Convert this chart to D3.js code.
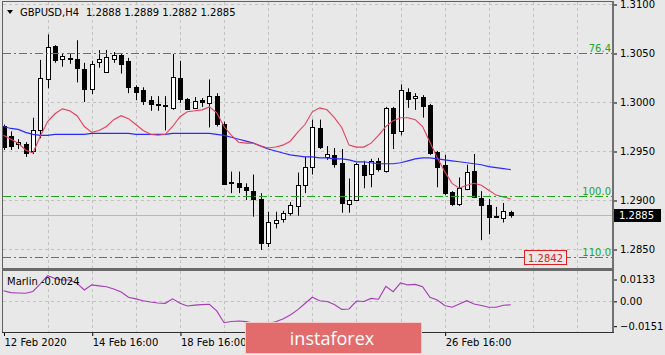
<!DOCTYPE html>
<html>
<head>
<meta charset="UTF-8">
<title>GBPUSD,H4</title>
<script src="https://d3js.org/d3.v7.min.js"></script>
<style>
  body { margin: 0; background: #e8e8e8; }
  svg { display: block; font-family: "DejaVu Sans", sans-serif; font-size: 10px; }
</style>
</head>
<body>
<svg width="665" height="355"></svg>
<script>
// H4 bars
const opens = [1.2975,1.2965,1.2957,1.2957,1.2950,1.2971,1.3023,1.3057,1.3044,1.3045,
  1.3044,1.3034,1.3014,1.3041,1.3031,1.3044,1.3048,1.3042,1.3015,1.3012,
  1.3002,1.2998,1.2997,1.2994,1.3025,1.3003,1.2994,1.3002,1.2999,1.3006,
  1.2978,1.2918,1.2917,1.2913,1.2909,1.2901,1.2857,1.2877,1.2881,1.2887,
  1.2894,1.2916,1.2933,1.2973,1.2944,1.2946,1.2938,1.2896,1.2900,1.2936,
  1.2927,1.2940,1.2930,1.2994,1.2970,1.3010,1.3004,1.3005,1.2997,1.2949,
  1.2936,1.2908,1.2896,1.2912,1.2930,1.2902,1.2895,1.2884,1.2882,1.2888];
const highs = [1.2977,1.2970,1.2962,1.2959,1.2984,1.3043,1.3069,1.3058,1.3050,1.3050,
  1.3063,1.3040,1.3042,1.3053,1.3053,1.3051,1.3050,1.3045,1.3017,1.3015,
  1.3006,1.3006,1.3006,1.3049,1.3042,1.3004,1.3005,1.3004,1.3023,1.3009,
  1.2980,1.2929,1.2929,1.2917,1.2926,1.2907,1.2888,1.2888,1.2889,1.2898,
  1.2928,1.2944,1.2982,1.2982,1.2955,1.2953,1.2952,1.2922,1.2938,1.2940,
  1.2942,1.2943,1.2995,1.2995,1.3018,1.3014,1.3009,1.3007,1.2998,1.2950,
  1.2946,1.2909,1.2923,1.2936,1.2947,1.2909,1.2901,1.2893,1.2897,1.2889];
const lows = [1.2951,1.2951,1.2952,1.2944,1.2947,1.2963,1.3014,1.3040,1.3036,1.3039,
  1.3020,1.3000,1.3008,1.3035,1.3030,1.3040,1.3029,1.3009,1.3002,1.2997,
  1.2991,1.2991,1.2971,1.2992,1.2999,1.2992,1.2993,1.2995,1.2974,1.2975,
  1.2916,1.2907,1.2907,1.2900,1.2883,1.2849,1.2852,1.2871,1.2877,1.2884,
  1.2884,1.2907,1.2926,1.2952,1.2941,1.2933,1.2887,1.2887,1.2899,1.2912,
  1.2913,1.2929,1.2928,1.2952,1.2966,1.2994,1.2992,1.2984,1.2946,1.2913,
  1.2905,1.2894,1.2894,1.2910,1.2902,1.2859,1.2865,1.2882,1.2877,1.2882];
const closes = [1.2954,1.2955,1.2959,1.2948,1.2971,1.3024,1.3056,1.3043,1.3047,1.3044,
  1.3035,1.3014,1.3039,1.3044,1.3046,1.3048,1.3039,1.3015,1.3010,1.3001,
  1.2998,1.2997,1.2996,1.3026,1.3004,1.2993,1.3001,1.3000,1.3006,1.2977,
  1.2917,1.2917,1.2913,1.2910,1.2901,1.2856,1.2878,1.2880,1.2887,1.2895,
  1.2915,1.2934,1.2974,1.2954,1.2947,1.2937,1.2897,1.2900,1.2937,1.2926,
  1.2940,1.2932,1.2994,1.2969,1.3012,1.3003,1.3006,1.2996,1.2948,1.2934,
  1.2907,1.2896,1.2912,1.2929,1.2903,1.2895,1.2883,1.2883,1.2889,1.2885];

// moving averages (red fast, blue slow)
const maFast = [1.2966,1.2962,1.2958,1.2951,1.2948,1.2965,1.2980,1.2988,1.2993,1.2991,
  1.2986,1.2975,1.2969,1.2971,1.2975,1.2982,1.2986,1.2983,1.2977,1.2971,
  1.2967,1.2966,1.2967,1.2975,1.2985,1.2990,1.2991,1.2992,1.2995,1.2989,
  1.2975,1.2966,1.2959,1.2958,1.2958,1.2955,1.2953,1.2954,1.2956,1.2960,
  1.2969,1.2977,1.2990,1.2994,1.2992,1.2984,1.2974,1.2956,1.2954,1.2954,
  1.2958,1.2966,1.2975,1.2981,1.2984,1.2984,1.2982,1.2975,1.2959,1.2943,
  1.2929,1.2917,1.2912,1.2915,1.2917,1.2915,1.2910,1.2905,1.2903,1.2901];
const maSlow = [1.2975,1.2973,1.2972,1.2969,1.2967,1.2966,1.2966,1.2967,1.2967,1.2967,
  1.2967,1.2967,1.2968,1.2968,1.2968,1.2968,1.2968,1.2968,1.2967,1.2967,
  1.2967,1.2967,1.2967,1.2968,1.2968,1.2968,1.2968,1.2968,1.2968,1.2967,
  1.2966,1.2964,1.2962,1.2960,1.2958,1.2955,1.2952,1.2950,1.2948,1.2946,
  1.2945,1.2944,1.2944,1.2943,1.2943,1.2942,1.2942,1.2941,1.2939,1.2939,
  1.2938,1.2937,1.2937,1.2937,1.2938,1.2940,1.2942,1.2943,1.2943,1.2942,
  1.2941,1.2940,1.2939,1.2938,1.2937,1.2936,1.2934,1.2933,1.2932,1.2931];

// Marlin oscillator
const marlin = [0.0062,0.0050,0.0048,0.0046,0.0057,0.0103,0.0153,0.0136,0.0127,0.0127,
  0.0106,0.0066,0.0097,0.0091,0.0086,0.0072,0.0054,0.0022,0.0012,0.0001,
  -0.0007,-0.0013,-0.0015,0.0012,-0.0015,-0.0031,-0.0026,-0.0023,-0.0021,-0.0061,
  -0.0133,-0.0125,-0.0122,-0.0126,-0.0136,-0.0136,-0.0136,-0.0127,-0.0110,-0.0086,
  -0.0055,-0.0016,0.0022,0.0001,-0.0004,-0.0022,-0.0052,-0.0049,-0.0001,-0.0004,
  0.0015,0.0010,0.0088,0.0056,0.0109,0.0097,0.0100,0.0086,0.0022,0.0005,
  -0.0028,-0.0039,-0.0019,0.0001,-0.0019,-0.0028,-0.0039,-0.0039,-0.0027,-0.0024];

const priceTicks = [1.3100, 1.3050, 1.3000, 1.2950, 1.2900, 1.2850];
const marlinTicks = [0.0133, 0, -0.0151];
const fibLevels = ["76.4", "100.0", "110.0"];
const fibPrices = [1.3050, 1.2904, 1.2842];
const timeTickIdx = [0, 12, 24, 60];
const timeTickLabels = ["12 Feb 2020", "14 Feb 16:00", "18 Feb 16:00", "26 Feb 16:00"];
const symbol = "GBPUSD,H4";
const lastPrice = 1.2885;
const targetPrice = 1.2842;

// layout
const L = 3, R = 613, mainTop = 2, mainBot = 268, subTop = 271, subBot = 332;
const svg = d3.select("svg");

const x = d3.scaleLinear().domain([0, 78]).range([3.5, 577]);
const y = d3.scaleLinear().domain([1.2850, 1.3100]).range([249, 4]);
const ym = d3.scaleLinear().domain([-0.0151, 0.0133]).range([325.7, 279]);
const px = i => Math.round(x(i)) + 0.5;

svg.append("defs").append("clipPath").attr("id", "clipMain")
  .append("rect").attr("x", L).attr("y", mainTop).attr("width", R - L).attr("height", mainBot - mainTop);
svg.append("defs").append("clipPath").attr("id", "clipSub")
  .append("rect").attr("x", L).attr("y", subTop).attr("width", R - L).attr("height", subBot - subTop);

// grid
const gridIdx = d3.range(6, 79, 6);
const grid = svg.append("g").attr("stroke", "#c2c2c2").attr("stroke-dasharray", "3,3");
gridIdx.forEach(i => {
  grid.append("line").attr("x1", px(i)).attr("x2", px(i)).attr("y1", mainTop).attr("y2", mainBot);
  grid.append("line").attr("x1", px(i)).attr("x2", px(i)).attr("y1", subTop).attr("y2", subBot);
});
priceTicks.filter(p => !fibPrices.some(f => Math.abs(y(f) - y(p)) < 1.5)).forEach(p => {
  const yy = Math.round(y(p)) + 0.5;
  grid.append("line").attr("x1", L).attr("x2", R).attr("y1", yy).attr("y2", yy);
});
grid.append("line").attr("x1", L).attr("x2", R)
  .attr("y1", Math.round(ym(0)) + 0.5).attr("y2", Math.round(ym(0)) + 0.5);

const main = svg.append("g").attr("clip-path", "url(#clipMain)");

// current price line
main.append("line").attr("x1", L).attr("x2", R)
  .attr("y1", Math.round(y(lastPrice)) + 0.5).attr("y2", Math.round(y(lastPrice)) + 0.5)
  .attr("stroke", "#b8b8b8");

// fibo levels
const fib = svg.append("g");
fibPrices.forEach((p, k) => {
  const yy = Math.round(y(p)) + 0.5;
  fib.append("path").attr("d", `M${L},${yy}H${R - 1}`)
    .attr("fill", "none").attr("stroke", "#1fa51f").attr("stroke-dasharray", "8,3,2,3");
  fib.append("text").attr("x", R - 2).attr("y", yy - 2).attr("text-anchor", "end")
    .attr("fill", "#1fa51f").text(fibLevels[k]);
});

// candles
const idx = d3.range(opens.length);
main.selectAll(".wick").data(idx).enter().append("line")
  .attr("x1", px).attr("x2", px)
  .attr("y1", i => y(highs[i])).attr("y2", i => y(lows[i]))
  .attr("stroke", "#000");
main.selectAll(".body").data(idx).enter().append("rect")
  .attr("x", i => px(i) - 2)
  .attr("y", i => Math.round(y(Math.max(opens[i], closes[i]))) + 0.5)
  .attr("width", 4)
  .attr("height", i => Math.max(0, Math.round(Math.abs(y(opens[i]) - y(closes[i])))))
  .attr("fill", i => closes[i] >= opens[i] ? "#fff" : "#000")
  .attr("stroke", "#000");

// moving averages
const line = arr => d3.line().x((d, i) => x(i)).y(d => y(d))(arr);
main.append("path").attr("d", line(maSlow)).attr("fill", "none")
  .attr("stroke", "#2b2bff").attr("stroke-width", 1.2);
main.append("path").attr("d", line(maFast)).attr("fill", "none")
  .attr("stroke", "#e6405e").attr("stroke-width", 1.1);

// target label
const ty = Math.round(y(targetPrice)) + 0.5;
svg.append("line").attr("x1", 518).attr("x2", 525).attr("y1", ty).attr("y2", ty).attr("stroke", "#e02020");
svg.append("rect").attr("x", 524.5).attr("y", ty - 7).attr("width", 42).attr("height", 14)
  .attr("fill", "#e8e8e8").attr("stroke", "#e02020");
svg.append("text").attr("x", 545.5).attr("y", ty + 4).attr("text-anchor", "middle")
  .attr("fill", "#e02020").text(targetPrice.toFixed(4));

// marlin
svg.append("g").attr("clip-path", "url(#clipSub)").append("path")
  .attr("d", d3.line().x((d, i) => x(i)).y(d => ym(d))(marlin))
  .attr("fill", "none").attr("stroke", "#a43cb4").attr("stroke-width", 1.1);

// frames
const frame = svg.append("g").attr("fill", "none");
frame.append("line").attr("x1", L).attr("x2", R + 1).attr("y1", 1.5).attr("y2", 1.5).attr("stroke", "#606060");
frame.append("line").attr("x1", 2.5).attr("x2", 2.5).attr("y1", 1).attr("y2", subBot + 1).attr("stroke", "#606060");
frame.append("line").attr("x1", R).attr("x2", R).attr("y1", 1).attr("y2", subBot + 1)
  .attr("stroke", "#707070").attr("stroke-width", 2);
frame.append("line").attr("x1", 2).attr("x2", R + 1).attr("y1", 269.5).attr("y2", 269.5)
  .attr("stroke", "#6a6a6a").attr("stroke-width", 3);
frame.append("line").attr("x1", 2).attr("x2", R + 1).attr("y1", subBot + 0.5).attr("y2", subBot + 0.5)
  .attr("stroke", "#303030");

// axes
const axPrice = svg.append("g").attr("transform", `translate(${R + 1},0.5)`)
  .call(d3.axisRight(y).tickValues(priceTicks).tickFormat(d3.format(".4f")).tickSize(3).tickPadding(3));
const axMarlin = svg.append("g").attr("transform", `translate(${R + 1},0.5)`)
  .call(d3.axisRight(ym).tickValues(marlinTicks)
    .tickFormat(d => d === 0 ? "0.00" : d3.format(".4f")(d)).tickSize(3).tickPadding(3));
const axTime = svg.append("g").attr("transform", `translate(0.5,${subBot + 1})`)
  .call(d3.axisBottom(x).tickValues(timeTickIdx).tickFormat((d, i) => timeTickLabels[i]).tickSize(3).tickPadding(3));
axTime.selectAll("text").attr("text-anchor", "start").attr("x", 0);
[axPrice, axMarlin, axTime].forEach(a => {
  a.select(".domain").remove();
  a.attr("font-family", null).attr("font-size", null).style("color", "#000");
});

// last price tag
const ly = Math.round(y(lastPrice));
svg.append("rect").attr("x", R + 1).attr("y", ly - 6).attr("width", 47).attr("height", 13).attr("fill", "#000");
svg.append("text").attr("x", R + 6).attr("y", ly + 4).attr("fill", "#fff").text(lastPrice.toFixed(4));

// title
svg.append("path").attr("d", "M7,10 L13,10 L10,14 Z").attr("fill", "#000");
svg.append("text").attr("x", 20).attr("y", 16).attr("fill", "#000").text(symbol);
svg.append("text").attr("x", 86).attr("y", 16).attr("fill", "#000")
  .text([opens, highs, lows, closes].map(a => a[a.length - 1].toFixed(4)).join(" "));
svg.append("text").attr("x", 7).attr("y", 285).attr("fill", "#000")
  .text("Marlin " + marlin[marlin.length - 1].toFixed(4));

// watermark
const wm = svg.append("g");
wm.append("rect").attr("x", 245.5).attr("y", 322.5).attr("width", 176).attr("height", 31)
  .attr("fill", "#e26c6c").attr("stroke", "#f4caca");
wm.append("text").attr("x", 332).attr("y", 345).attr("text-anchor", "middle")
  .attr("fill", "#fff").style("font-family", "'Open Sans', sans-serif").style("font-size", "18px")
  .text("instaforex");
</script>
</body>
</html>
